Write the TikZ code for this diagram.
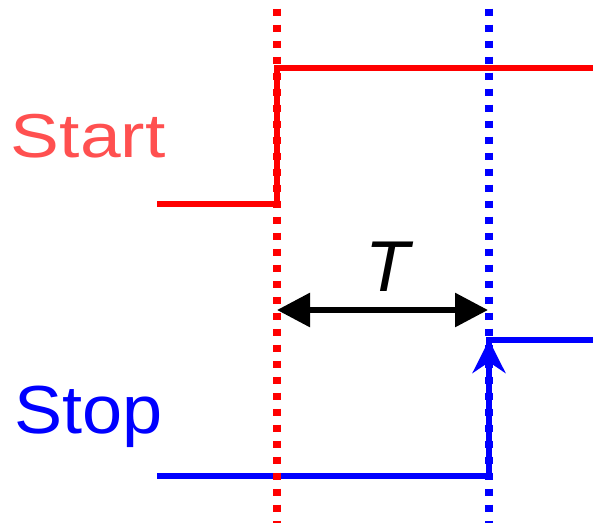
\documentclass[tikz,border=0pt]{standalone}
\usepackage{fontspec}
\setmainfont{Liberation Sans}
\usetikzlibrary{arrows.meta}
\definecolor{startred}{HTML}{FF5050}
\begin{document}
\begin{tikzpicture}[x=1pt,y=-1pt,
  sig/.style={line width=6pt},
  guide/.style={line width=8pt, dash pattern=on 7.5pt off 8.5pt, dash phase=7.5pt},
  lbl/.style={inner sep=0pt, anchor=base west, font=\fontsize{62}{70}\selectfont}]
\useasboundingbox (0,0) rectangle (593,523);
% coordinates
\coordinate (rs) at (157,204);
\coordinate (re) at (277,204);
\coordinate (rt) at (277,68);
\coordinate (rr) at (593,68);
\coordinate (bs) at (157,476);
\coordinate (be) at (489,476);
\coordinate (bt) at (489,340);
\coordinate (br) at (593,340);
\coordinate (ra) at (277,310);
\coordinate (ba) at (488,310);
\coordinate (rtop) at (277,0);
\coordinate (rbot) at (277,523);
\coordinate (btop) at (489,0);
\coordinate (bbot) at (489,523);
% labels
\node[lbl, text=startred, xscale=1.18] (start) at (10.7,157) {Start};
\node[lbl, text=blue, font=\fontsize{68}{76}\selectfont, xscale=1.06] (stop) at (13.8,433) {Stop};
\node[inner sep=0pt, anchor=base, font=\fontsize{72}{80}\selectfont\itshape] (T) at (387.5,291) {T};
% signals
\draw[sig, red, line join=miter] (rs) -- (re) -- (rt) -- (rr);
\draw[sig, blue, line join=miter] (bs) -- (be) -- (bt) -- (br);
\draw[sig, blue, -{Stealth[length=33pt,width=33pt,inset=11pt]}] (be) -- (bt);
% T arrow
\draw[sig, black, {Triangle[length=33pt,width=33pt]}-{Triangle[length=33pt,width=33pt]}] (ra) -- (ba);
% guides
\draw[guide, red] (rtop) -- (rbot);
\draw[guide, blue] (btop) -- (bbot);
\end{tikzpicture}
\end{document}
